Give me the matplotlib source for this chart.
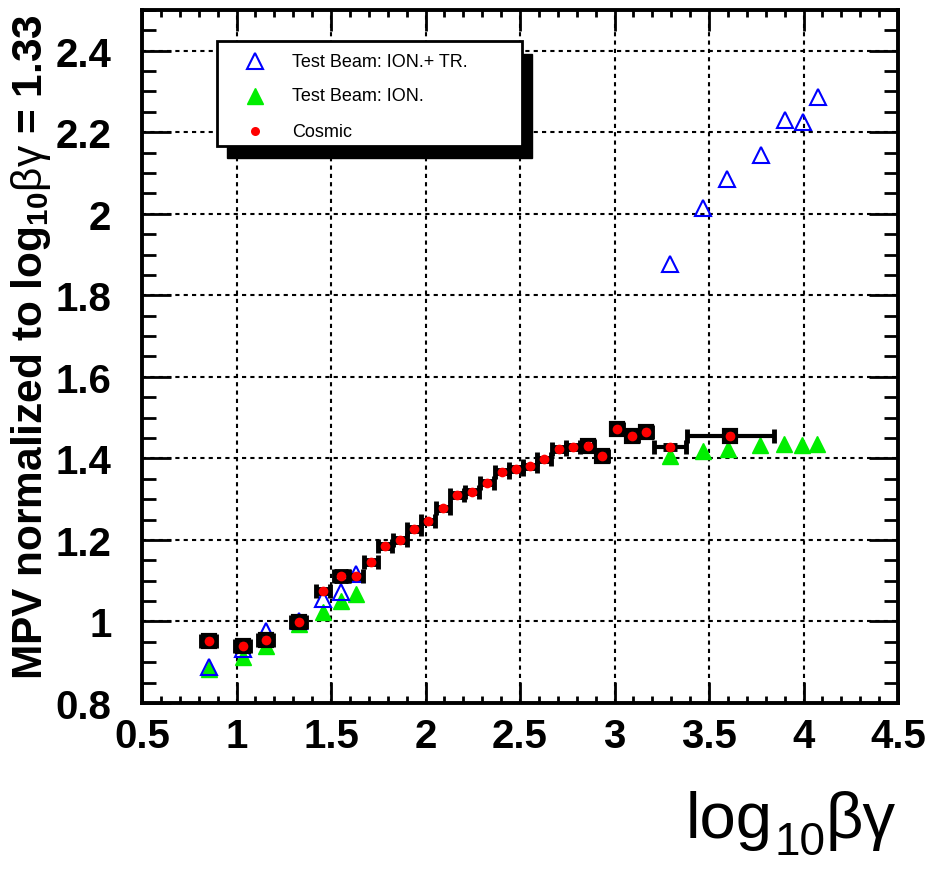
import numpy as np
import matplotlib.pyplot as plt
from matplotlib.patches import Rectangle
from matplotlib.lines import Line2D
from matplotlib.ticker import MultipleLocator, FuncFormatter

plt.rcParams['font.family'] = ['Liberation Sans', 'DejaVu Sans']
plt.rcParams['mathtext.fontset'] = 'custom'
plt.rcParams['mathtext.rm'] = 'Liberation Sans'
plt.rcParams['mathtext.it'] = 'Liberation Sans:italic'
plt.rcParams['mathtext.bf'] = 'Liberation Sans:bold'

# test beam, ionisation + transition radiation (open blue triangles)
tr_x = [0.853, 1.033, 1.155, 1.330, 1.457, 1.553, 1.632,
        3.294, 3.468, 3.595, 3.775, 3.902, 3.995, 4.077]
tr_y = [0.888, 0.932, 0.977, 1.001, 1.055, 1.072, 1.116,
        1.876, 2.015, 2.086, 2.144, 2.230, 2.225, 2.286]

# test beam, ionisation only (filled green triangles)
ion_x = [0.853, 1.033, 1.155, 1.330, 1.457, 1.553, 1.632,
         3.294, 3.468, 3.601, 3.770, 3.897, 3.992, 4.071]
ion_y = [0.883, 0.913, 0.940, 0.994, 1.023, 1.050, 1.067,
         1.406, 1.419, 1.423, 1.433, 1.436, 1.433, 1.436]

# cosmics (red dots with error bars)
cos_x = [0.853, 1.033, 1.155, 1.330, 1.457, 1.553, 1.632, 1.711, 1.785, 1.864,
         1.938, 2.012, 2.092, 2.166, 2.246, 2.325, 2.405, 2.479, 2.553, 2.627,
         2.707, 2.781, 2.861, 2.935, 3.013, 3.092, 3.166, 3.294, 3.613]
cos_y = [0.952, 0.940, 0.955, 0.999, 1.075, 1.111, 1.111, 1.146, 1.185, 1.200,
         1.227, 1.246, 1.278, 1.310, 1.318, 1.340, 1.367, 1.374, 1.381, 1.398,
         1.423, 1.428, 1.430, 1.406, 1.472, 1.455, 1.465, 1.428, 1.455]
cos_xerr = [0.04, 0.04, 0.04, 0.04, 0.037, 0.037, 0.037, 0.037, 0.037, 0.037,
            0.037, 0.037, 0.037, 0.037, 0.037, 0.037, 0.037, 0.037, 0.037, 0.037,
            0.037, 0.037, 0.03, 0.03, 0.03, 0.03, 0.03, 0.085, 0.23]
cos_yerr = [0.004, 0.004, 0.004, 0.004, 0.004, 0.012, 0.004, 0.004, 0.004, 0.004,
            0.004, 0.004, 0.004, 0.004, 0.004, 0.004, 0.004, 0.004, 0.004, 0.004,
            0.004, 0.004, 0.004, 0.004, 0.004, 0.004, 0.004, 0.004, 0.004]
# points whose error box is drawn closed around the marker
cos_box = [1, 1, 1, 1, 0, 0, 0, 0, 0, 0,
           0, 0, 0, 0, 0, 0, 0, 0, 0, 0,
           0, 0, 1, 1, 1, 1, 1, 0, 1]

labels = ['Test Beam: ION.+ TR.', 'Test Beam: ION.', 'Cosmic']

cos_x = np.array(cos_x)
cos_y = np.array(cos_y)
box = np.array(cos_box, dtype=bool)

fig = plt.figure(figsize=(9.33, 8.7), dpi=100)
ax = fig.add_axes([0.1522, 0.1908, 0.8103, 0.7966])

ax.plot(ion_x, ion_y, '^', color='#00ee00', ms=11, mec='#00ee00', zorder=3)
ax.plot(tr_x, tr_y, '^', mfc='none', mec='#0000ff', ms=12, mew=1.5, zorder=4)
ax.errorbar(cos_x, cos_y, xerr=cos_xerr, yerr=cos_yerr, fmt='none', ecolor='black',
            elinewidth=3, capsize=5, capthick=3.5, zorder=5)
ax.plot(cos_x[box], cos_y[box], 's', mfc='none', mec='black', mew=3, ms=9, zorder=5)
ax.plot(cos_x, cos_y, 'o', color='#ff0000', ms=7, mec='none', zorder=6)

ax.set_xlim(0.5, 4.5)
ax.set_ylim(0.8, 2.5)
ax.xaxis.set_major_locator(MultipleLocator(0.5))
ax.xaxis.set_minor_locator(MultipleLocator(0.1))
ax.yaxis.set_major_locator(MultipleLocator(0.2))
ax.yaxis.set_minor_locator(MultipleLocator(0.05))
fmt = FuncFormatter(lambda v, p: '%g' % round(v, 2))
ax.xaxis.set_major_formatter(fmt)
ax.yaxis.set_major_formatter(fmt)
ax.tick_params(axis='both', which='both', direction='in', top=True, right=True, width=2)
ax.tick_params(axis='x', which='major', length=15, labelsize=29, pad=10)
ax.tick_params(axis='x', which='minor', length=5)
ax.tick_params(axis='y', which='major', length=21, labelsize=29, pad=22)
ax.tick_params(axis='y', which='minor', length=10)
for lab in ax.get_xticklabels() + ax.get_yticklabels():
    lab.set_fontweight('bold')
for s in ax.spines.values():
    s.set_linewidth(2.8)

ax.grid(True, which='major', color='black', linestyle=(0, (2, 2)), linewidth=1.5)
ax.set_axisbelow(True)

# legend box with black shadow
lx0, ly0, lw, lh = 0.099, 0.804, 0.404, 0.151
ax.add_patch(Rectangle((lx0 + 0.013, ly0 - 0.018), lw, lh, transform=ax.transAxes,
                       facecolor='black', edgecolor='black', zorder=7, clip_on=False))
ax.add_patch(Rectangle((lx0, ly0), lw, lh, transform=ax.transAxes,
                       facecolor='white', edgecolor='black', linewidth=2, zorder=8, clip_on=False))
rows = [0.926, 0.876, 0.825]
handles = [dict(marker='^', mfc='none', mec='#0000ff', ms=12, mew=1.5),
           dict(marker='^', mfc='#00ee00', mec='#00ee00', ms=11),
           dict(marker='o', mfc='#ff0000', mec='none', ms=6.5)]
for yy, h, lab in zip(rows, handles, labels):
    ax.add_line(Line2D([0.149], [yy], transform=ax.transAxes, linestyle='none', zorder=9, **h))
    ax.text(0.198, yy, lab, transform=ax.transAxes, fontsize=13, va='center', ha='left', zorder=9)

fig.text(0.033, 1 - 14 / 870, r'MPV normalized to log$_{\mathbf{10}}\mathrm{\beta\gamma}$ = 1.33',
         rotation=90, ha='center', va='top', fontsize=30.5, fontweight='bold')

# x title: log, lowered subscript 10, then beta gamma
t1 = fig.text(686 / 933, 1 - 838 / 870, 'log', ha='left', va='baseline', fontsize=47)
t2 = ax.annotate('10', xy=(1, 0), xycoords=t1, xytext=(1, -10), textcoords='offset points',
                 ha='left', va='bottom', fontsize=33, annotation_clip=False)
ax.annotate('βγ', xy=(1, 0), xycoords=(t2, t1), xytext=(0, 0), textcoords='offset points',
            ha='left', va='bottom', fontsize=47, annotation_clip=False)

fig.savefig('out.png', dpi=100)
